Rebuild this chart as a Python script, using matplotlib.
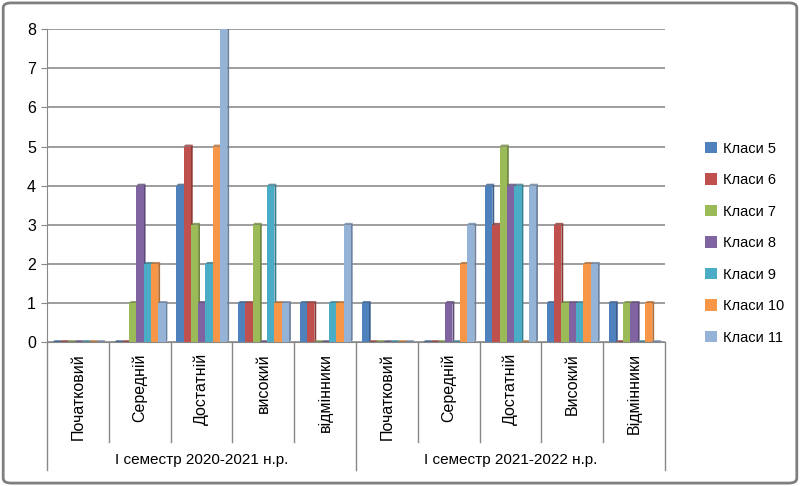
import matplotlib
matplotlib.use("Agg")
import matplotlib.pyplot as plt
import numpy as np
from matplotlib.patches import FancyBboxPatch, Polygon

plt.rcParams['font.family'] = ['Liberation Sans', 'DejaVu Sans']

groups = ["І семестр 2020-2021 н.р.", "І семестр 2021-2022 н.р."]
categories = ["Початковий", "Середній", "Достатній", "високий", "відмінники",
              "Початковий", "Середній", "Достатній", "Високий", "Відмінники"]
series_names = ["Класи 5", "Класи 6", "Класи 7", "Класи 8", "Класи 9", "Класи 10", "Класи 11"]
klasy5  = [0, 0, 4, 1, 1, 1, 0, 4, 1, 1]
klasy6  = [0, 0, 5, 1, 1, 0, 0, 3, 3, 0]
klasy7  = [0, 1, 3, 3, 0, 0, 0, 5, 1, 1]
klasy8  = [0, 4, 1, 0, 0, 0, 1, 4, 1, 1]
klasy9  = [0, 2, 2, 4, 1, 0, 0, 4, 1, 0]
klasy10 = [0, 2, 5, 1, 1, 0, 2, 0, 2, 1]
klasy11 = [0, 1, 8, 1, 3, 0, 3, 4, 2, 0]
series = [klasy5, klasy6, klasy7, klasy8, klasy9, klasy10, klasy11]
colors = ["#4F81BD", "#C0504D", "#9BBB59", "#8064A2", "#4BACC6", "#F79646", "#95B3D7"]
side_colors = ["#385D8A", "#8C3836", "#71893F", "#5C4776", "#357D91", "#B66D31", "#6C82A0"]

fig = plt.figure(figsize=(8, 4.86), dpi=100)
ax = fig.add_axes([0.059, 0.296, 0.772, 0.644])

n = len(categories)
x = np.arange(n)
bw = 0.118
depth_x = 0.03
depth_y = 0.05
for i, (vals, c, sc) in enumerate(zip(series, colors, side_colors)):
    xs = x - 0.5 + 0.09 + i * bw
    ax.bar(xs, vals, width=bw, align='edge', color=c, edgecolor='none', zorder=3,
           label=series_names[i])
    for xx, v in zip(xs, vals):
        ax.add_patch(Polygon([[xx + bw, 0], [xx + bw + depth_x, depth_y],
                              [xx + bw + depth_x, v + depth_y], [xx + bw, v]],
                             closed=True, color=sc, zorder=2.9, lw=0))
        ax.add_patch(Polygon([[xx, v], [xx + depth_x, v + depth_y],
                              [xx + bw + depth_x, v + depth_y], [xx + bw, v]],
                             closed=True, color=sc, zorder=2.9, lw=0, alpha=0.8))

ax.set_xlim(-0.5, n - 0.5)
ax.set_ylim(0, 8)
ax.set_yticks(range(0, 9))
ax.tick_params(axis='y', labelsize=11.5, length=4, color='#888888', pad=4)
ax.set_xticks([])
for s in ['top', 'right']:
    ax.spines[s].set_visible(False)
ax.spines['left'].set_color('#888888')
ax.spines['bottom'].set_color('#888888')
ax.yaxis.grid(True, color='#8C8C8C', lw=1.2, zorder=0)
ax.set_axisbelow(True)

trans = ax.get_xaxis_transform()
for k, cat in enumerate(categories):
    ax.text(k, -0.035, cat, rotation=90, ha='center', va='top', fontsize=11.5,
            transform=trans, clip_on=False)
for k in range(n + 1):
    y1 = -0.41 if k in (0, 5, 10) else -0.32
    ax.plot([k - 0.5, k - 0.5], [0, y1], color='#888888', lw=1, transform=trans, clip_on=False)
for g, name in enumerate(groups):
    ax.text(2 + 5 * g, -0.375, name, ha='center', va='center', fontsize=11,
            transform=trans, clip_on=False)

handles, labels = ax.get_legend_handles_labels()
fig.legend(handles, labels, loc='center left', bbox_to_anchor=(0.865, 0.50),
           frameon=False, fontsize=10.5, handlelength=0.8, handleheight=0.8,
           labelspacing=1.2, handletextpad=0.4)

fig.patches.append(FancyBboxPatch((0.004, 0.006), 0.992, 0.988,
                                  boxstyle="round,pad=0,rounding_size=0.01",
                                  transform=fig.transFigure, fill=False,
                                  edgecolor='#7F7F7F', lw=2))

fig.savefig("out.png", dpi=100)
